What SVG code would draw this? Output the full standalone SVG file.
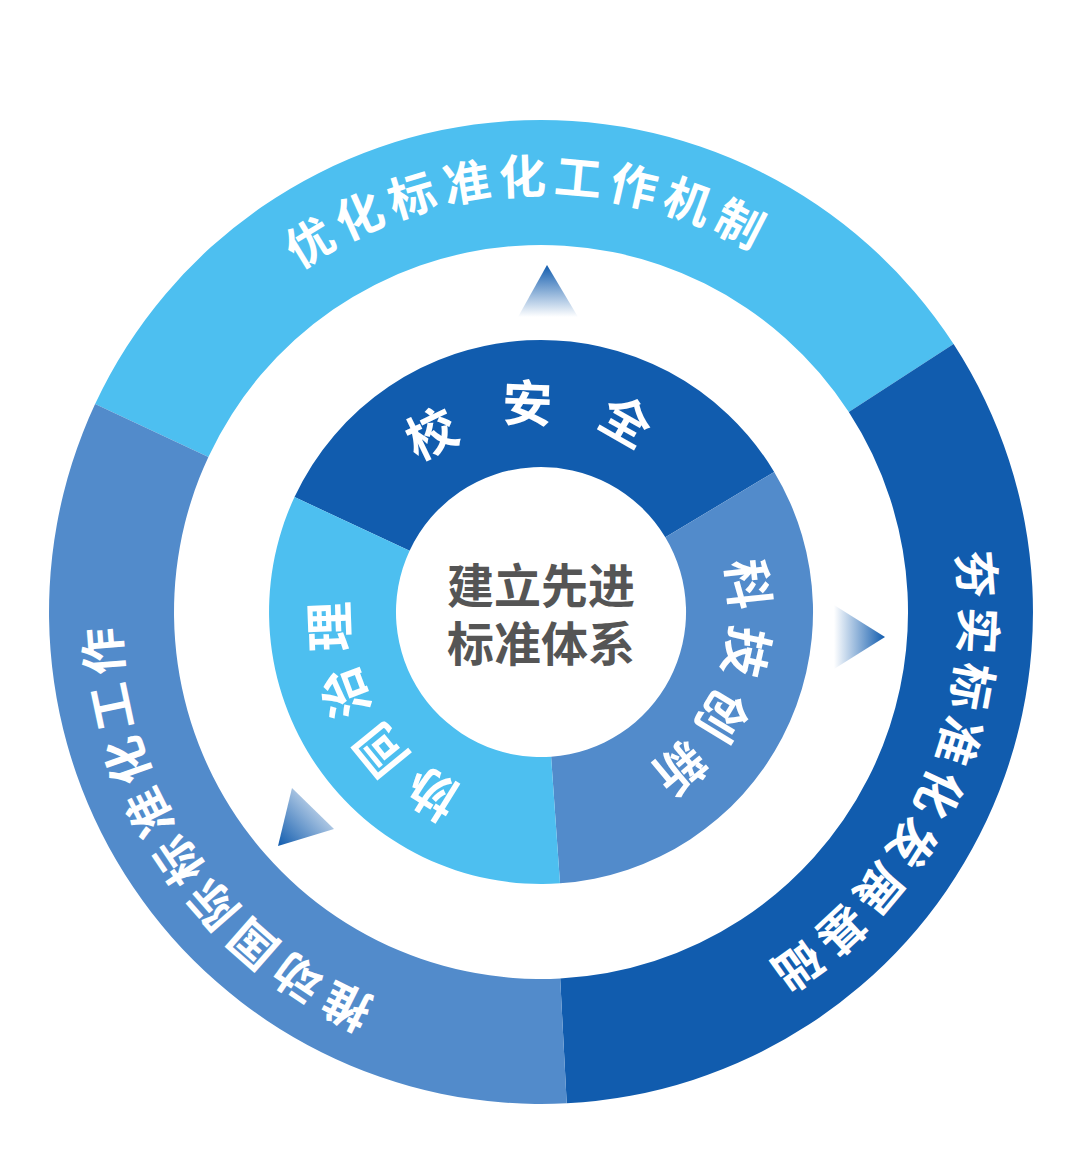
<svg xmlns="http://www.w3.org/2000/svg" width="1080" height="1171" viewBox="0 0 1080 1171">
<style>
.o{font-family:"Noto Sans CJK SC",sans-serif;font-weight:bold;font-size:47px;fill:#fff;letter-spacing:7px}
.i{font-family:"Noto Sans CJK SC",sans-serif;font-weight:bold;font-size:50px;fill:#fff}
.c{font-family:"Noto Sans CJK SC",sans-serif;font-weight:bold;font-size:47px;fill:#555}
</style>
<defs>
<linearGradient id="gv" x1="0" y1="0" x2="0" y2="1"><stop offset="0" stop-color="#115CAE"/><stop offset="1" stop-color="#fff"/></linearGradient>
<linearGradient id="gh" x1="1" y1="0" x2="0" y2="0"><stop offset="0" stop-color="#115CAE"/><stop offset="1" stop-color="#fff"/></linearGradient>
<linearGradient id="gd" x1="0" y1="1" x2="1" y2="0"><stop offset="0" stop-color="#115CAE"/><stop offset="1" stop-color="#fff"/></linearGradient>
<path id="pt" d="M121.1,619.3 A420,420 0 0 1 960.4,590"/>
<path id="pr" d="M725.1,234.5 A420,420 0 0 1 370.2,995.7"/>
<path id="pl" d="M769.7,964.3 A420,420 0 0 1 300.1,267.9"/>
<path id="it" d="M351.3,602.1 A190,190 0 0 1 731,615.3"/>
<path id="ir" d="M615.2,437.1 A190,190 0 0 1 472.9,789.4"/>
<path id="il" d="M633.1,778.2 A190,190 0 0 1 443.1,449.1"/>
</defs>
<rect width="1080" height="1171" fill="#fff"/>
<g id="outer-top"><path d="M95.1,404.1 A492,492 0 0 1 953.6,344 L848.8,412.1 A367,367 0 0 0 208.4,456.9 Z" fill="#4DBFF0"/>
<text class="o"><textPath href="#pt" startOffset="50%" text-anchor="middle">优化标准化工作机制</textPath></text></g>
<g id="outer-right"><path d="M953.6,344 A492,492 0 0 1 566.7,1103.3 L560.2,978.5 A367,367 0 0 0 848.8,412.1 Z" fill="#115CAE"/>
<text class="o"><textPath href="#pr" startOffset="50%" text-anchor="middle">夯实标准化发展基础</textPath></text></g>
<g id="outer-left"><path d="M566.7,1103.3 A492,492 0 0 1 95.1,404.1 L208.4,456.9 A367,367 0 0 0 560.2,978.5 Z" fill="#528BCB"/>
<text class="o"><textPath href="#pl" startOffset="50%" text-anchor="middle">推动国际标准化工作</textPath></text></g>
<g id="inner-top"><path d="M294.5,497.1 A272,272 0 0 1 774.2,471.9 L665.3,537.3 A145,145 0 0 0 409.6,550.7 Z" fill="#115CAE"/>
<text class="i" letter-spacing="42"><textPath href="#it" startOffset="50%" text-anchor="middle">校安全</textPath></text></g>
<g id="inner-right"><path d="M774.2,471.9 A272,272 0 0 1 560,883.3 L551.1,756.7 A145,145 0 0 0 665.3,537.3 Z" fill="#528BCB"/>
<text class="i" letter-spacing="12"><textPath href="#ir" startOffset="50%" text-anchor="middle">科技创新</textPath></text></g>
<g id="inner-left"><path d="M560,883.3 A272,272 0 0 1 294.5,497.1 L409.6,550.7 A145,145 0 0 0 551.1,756.7 Z" fill="#4DBFF0"/>
<text class="i" letter-spacing="12"><textPath href="#il" startOffset="50%" text-anchor="middle">协同治理</textPath></text></g>
<g id="center"><text class="c" x="541" y="603" text-anchor="middle">建立先进</text><text class="c" x="541" y="661" text-anchor="middle">标准体系</text></g>
<g id="connectors">
<polygon points="547,265 518,317 578,317" fill="url(#gv)"/>
<polygon points="885,637 834,605 834,669" fill="url(#gh)"/>
<polygon points="292,788 278,846 334,829" fill="url(#gd)"/>
</g>
</svg>
